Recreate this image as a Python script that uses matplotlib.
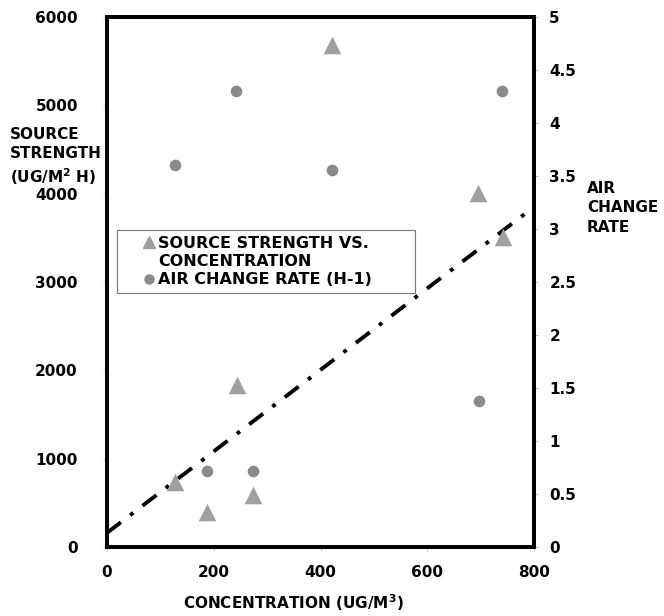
import matplotlib
matplotlib.use("Agg")
import matplotlib.pyplot as plt
from matplotlib.lines import Line2D
from matplotlib.patches import Rectangle

plt.rcParams['font.family'] = ['DejaVu Sans']
plt.rcParams['mathtext.fontset'] = 'dejavusans'

# Source strength vs concentration (triangles, left axis)
ss_conc = [127, 187, 243, 274, 421, 695, 742]
ss_vals = [736, 396, 1835, 589, 5685, 4009, 3511]

# Air change rate (circles, right axis)
acr_conc = [127, 187, 242, 274, 421, 697, 740]
acr_vals = [3.60, 0.72, 4.30, 0.72, 3.56, 1.38, 4.30]

# Trend line (left axis)
trend_x = [0, 800]
trend_y = [160, 3850]

x_ticks = [0, 200, 400, 600, 800]
left_ticks = [0, 1000, 2000, 3000, 4000, 5000, 6000]
right_ticks = [0, 0.5, 1, 1.5, 2, 2.5, 3, 3.5, 4, 4.5, 5]
right_labels = ['0', '0.5', '1', '1.5', '2', '2.5', '3', '3.5', '4', '4.5', '5']
legend_labels = ['SOURCE STRENGTH VS.', 'CONCENTRATION', 'AIR CHANGE RATE (H-1)']

FS = 11
W, H = 664, 616
AX_L, AX_R, AX_T, AX_B = 107, 534, 17, 547

fig = plt.figure(figsize=(6.64, 6.16), dpi=100)
ax = fig.add_axes([AX_L/W, 1-AX_B/H, (AX_R-AX_L)/W, (AX_B-AX_T)/H])
ax2 = ax.twinx()

def axfrac(px, py):
    return ((px-AX_L)/(AX_R-AX_L), (AX_B-py)/(AX_B-AX_T))

ax.plot(trend_x, trend_y, color='black', lw=2.8, ls=(0, (4.5, 3, 1, 3)), zorder=2)
ax.scatter(ss_conc, ss_vals, marker='^', s=160, color='#a0a0a0', zorder=3, linewidths=0)
ax2.scatter(acr_conc, acr_vals, marker='o', s=70, color='#8a8a8a', zorder=3, linewidths=0)

ax.set_xlim(0, 800)
ax.set_ylim(0, 6000)
ax2.set_ylim(0, 5)
ax.set_xticks(x_ticks)
ax.set_yticks(left_ticks)
ax2.set_yticks(right_ticks)
ax2.set_yticklabels(right_labels)

for a in (ax, ax2):
    for s in a.spines.values():
        s.set_linewidth(2.8)
        s.set_color('black')
    a.tick_params(length=3, width=0.6, color='#bbbbbb', labelsize=FS)
    for lab in a.get_xticklabels() + a.get_yticklabels():
        lab.set_fontweight('bold')
ax.tick_params(axis='x', pad=10)
ax.tick_params(axis='y', pad=18)
ax2.tick_params(axis='y', pad=8)

fig.text(10/W, 1-157/H, 'SOURCE\nSTRENGTH\n(UG/M$^\\mathbf{2}$ H)', fontsize=FS,
         fontweight='bold', ha='left', va='center', linespacing=1.32)
fig.text(587/W, 1-208/H, 'AIR\nCHANGE\nRATE', fontsize=FS,
         fontweight='bold', ha='left', va='center', linespacing=1.35)
fig.text(293/W, 1-603/H, 'CONCENTRATION (UG/M$^\\mathbf{3}$)', fontsize=FS,
         fontweight='bold', ha='center', va='center')

# legend frame (wider than its text, as in the original)
x0, y0 = axfrac(117, 293)
x1, y1 = axfrac(415, 230)
ax2.add_patch(Rectangle((x0, y0), x1-x0, y1-y0, transform=ax.transAxes,
                        facecolor='white', edgecolor='#777777', lw=0.8, zorder=4))

handles = [Line2D([], [], marker='^', ls='none', color='#a0a0a0', markersize=8),
           Line2D([], [], ls='none'),
           Line2D([], [], marker='o', ls='none', color='#8a8a8a', markersize=6.5)]
leg = ax2.legend(handles, legend_labels,
                 loc='upper left', bbox_to_anchor=axfrac(139, 236),
                 frameon=False, borderpad=0, handletextpad=0.0,
                 handlelength=1.2, labelspacing=0.2, borderaxespad=0,
                 prop={'weight': 'bold', 'size': 11.5})
leg.set_zorder(5)

fig.savefig('out.png', dpi=100)
